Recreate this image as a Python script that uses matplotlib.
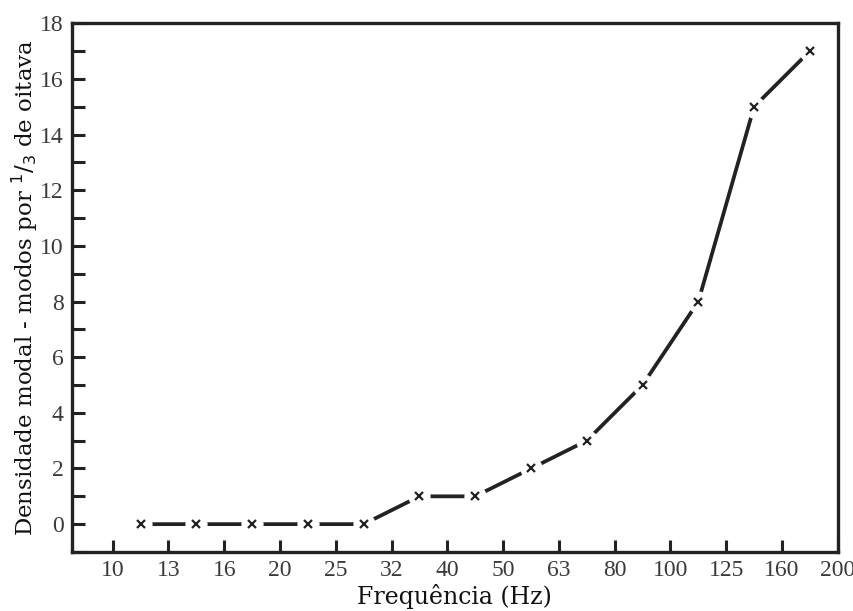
import matplotlib.pyplot as plt
import numpy as np

# 1/3 octave band edges shown on the x axis
band_labels = ["10", "13", "16", "20", "25", "32", "40", "50", "63", "80",
               "100", "125", "160", "200"]
# modal density per 1/3 octave, one value per band (centred between ticks)
modes = [0, 0, 0, 0, 0, 1, 1, 2, 3, 5, 8, 15, 17]

tick_pos = np.arange(len(band_labels))
x = np.arange(len(modes)) + 0.5

fig = plt.figure(figsize=(8.54, 6.11), dpi=100)
ax = fig.add_axes([0.0843, 0.0966, 0.8967, 0.8654])

ink = "#222222"
# line with small gaps around each marker
ax.plot(x, modes, color=ink, lw=2.7, solid_capstyle="round", zorder=2)
ax.plot(x, modes, ls="none", marker="o", ms=16, mfc="white", mec="none", zorder=3)
ax.plot(x, modes, ls="none", marker="x", ms=5.5, mew=1.6, color=ink, zorder=4)

ax.set_xlim(-0.73, 13)
ax.set_ylim(-1, 18)
ax.set_xticks(tick_pos)
ax.set_xticklabels(band_labels)
ax.set_yticks(np.arange(0, 19, 2))
ax.set_yticks(np.arange(-1, 18, 1), minor=True)

ax.tick_params(axis="both", which="both", direction="in", color=ink,
               width=2.2, labelcolor="#3a3a3a")
ax.tick_params(axis="both", which="major", length=9, pad=6)
ax.tick_params(axis="y", which="minor", length=9)
for lab in ax.get_xticklabels() + ax.get_yticklabels():
    lab.set_family("Liberation Serif")
    lab.set_fontsize(17)

for s in ax.spines.values():
    s.set_linewidth(2.4)
    s.set_color(ink)

plt.rcParams["mathtext.fontset"] = "dejavuserif"
ax.set_xlabel("Frequência (Hz)", family="DejaVu Serif", fontsize=17, color="#111111", labelpad=2)
ax.set_ylabel(r"Densidade modal - modos por $^{1}/_{3}$ de oitava", family="DejaVu Serif",
              fontsize=16.5, color="#111111", labelpad=0)

plt.savefig("out.png", dpi=100)
